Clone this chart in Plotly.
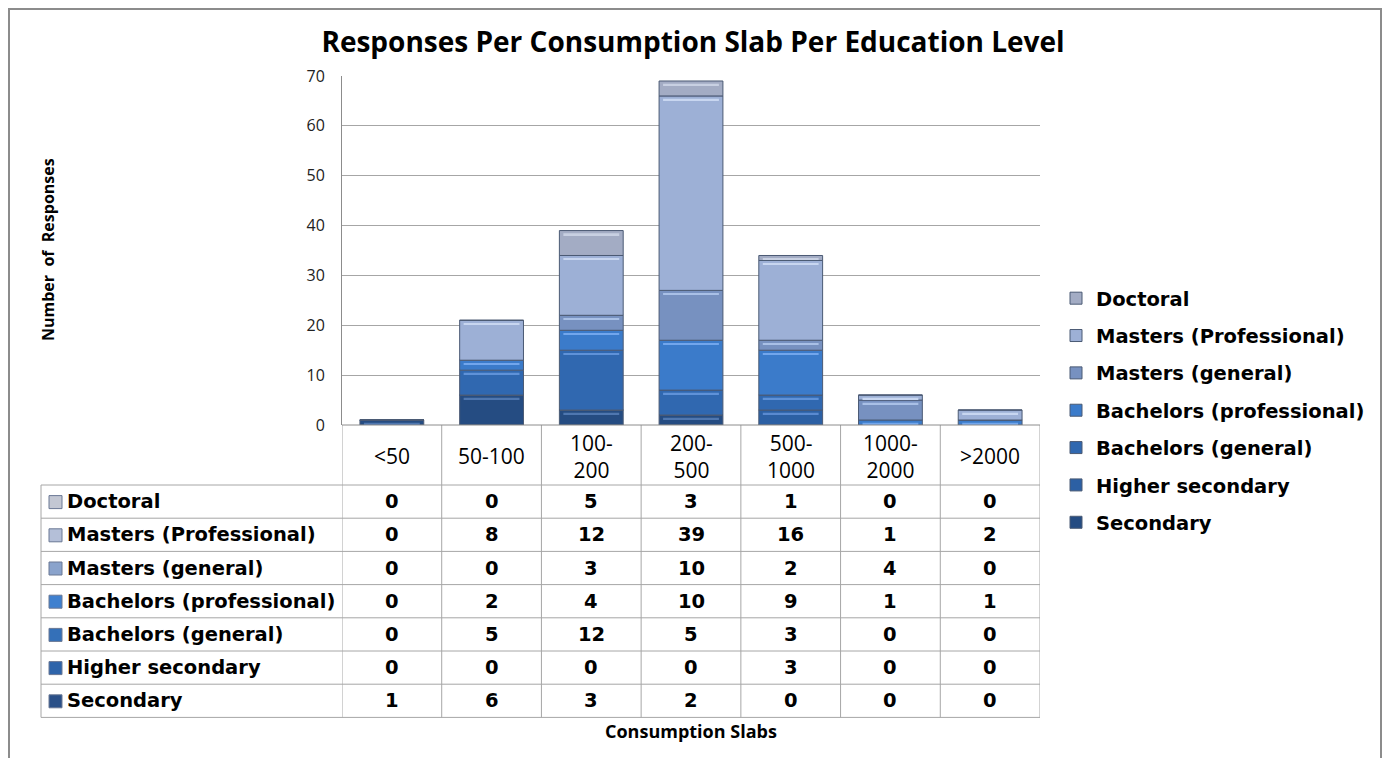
import plotly.graph_objects as go

# Consumption slabs (x categories) and the two-line labels used in the table header
slabs = ["<50", "50-100", "100-200", "200-500", "500-1000", "1000-2000", ">2000"]
slab_labels = ["<50", "50-100", "100-<br>200", "200-<br>500", "500-<br>1000", "1000-<br>2000", ">2000"]

# Responses per education level, stacked bottom to top
levels = [
    "Secondary",
    "Higher secondary",
    "Bachelors (general)",
    "Bachelors (professional)",
    "Masters (general)",
    "Masters (Professional)",
    "Doctoral",
]
secondary = [1, 6, 3, 2, 0, 0, 0]
higher_secondary = [0, 0, 0, 0, 3, 0, 0]
bachelors_general = [0, 5, 12, 5, 3, 0, 0]
bachelors_professional = [0, 2, 4, 10, 9, 1, 1]
masters_general = [0, 0, 3, 10, 2, 4, 0]
masters_professional = [0, 8, 12, 39, 16, 1, 2]
doctoral = [0, 0, 5, 3, 1, 0, 0]
series = [secondary, higher_secondary, bachelors_general, bachelors_professional,
          masters_general, masters_professional, doctoral]

y_ticks = [0, 10, 20, 30, 40, 50, 60, 70]

colors = ["#254c82", "#2c60a4", "#3068b0", "#3b7bca", "#7791c0", "#9db0d6", "#a3acc4"]
shine_colors = ["#4f77b0", "#5a8ad0", "#5f92d8", "#72a6ec", "#a9c0e6", "#c8d6f0", "#c8d0e2"]
icon_colors = ["#2a5088", "#2e64aa", "#3470b8", "#3f80cf", "#8aa3cc", "#b4bfd8", "#c3c7d3"]

W, H = 1386, 758
L, R, T, B = 342, 1040, 76, 425  # plot area in pixels
pw, ph = R - L, B - T
unit_px = ph / 70.0


def px_x(x):
    return (x - L) / pw


def px_y(y):
    return (B - y) / ph


n_rows = len(levels)
fig = go.Figure()

# stacked segments with explicit bases so a bevel highlight can sit on top of each one
base = [0] * len(slabs)
for i, (name, vals, col) in enumerate(zip(levels, series, colors)):
    fig.add_trace(go.Bar(
        x=slabs, y=vals, base=list(base), name=name, legendgroup=name,
        legendrank=100 + n_rows - i, width=0.64,
        marker=dict(color=col, line=dict(color="#4b5a74", width=1)),
    ))
    tops = [b + v for b, v in zip(base, vals)]
    shine_x = [s for s, v in zip(slabs, vals) if v > 0]
    shine_base = [t - 4.5 / unit_px for t, v in zip(tops, vals) if v > 0]
    fig.add_trace(go.Bar(
        x=shine_x, y=[1.8 / unit_px] * len(shine_x), base=shine_base,
        width=0.56, showlegend=False, hoverinfo="skip", legendgroup=name,
        marker=dict(color=shine_colors[i], line=dict(width=0)),
    ))
    base = tops

shapes = []
annotations = []
line_col = "#a6a6a6"

# outer chart frame
shapes.append(dict(type="rect", xref="paper", yref="paper",
                   x0=px_x(9), x1=px_x(1381), y0=px_y(9), y1=px_y(775),
                   line=dict(color="#8c8c8c", width=2), fillcolor="rgba(0,0,0,0)", layer="below"))

# data table below the axis
header_bottom = 485
row_h = 33.2
table_bottom = header_bottom + row_h * n_rows
label_left = 41

# horizontal row lines
for i in range(n_rows + 1):
    yy = header_bottom + i * row_h
    shapes.append(dict(type="line", xref="paper", yref="paper",
                       x0=px_x(label_left), x1=1, y0=px_y(yy), y1=px_y(yy),
                       line=dict(color=line_col, width=1)))
# vertical column lines, placed on category boundaries
for k in range(len(slabs) + 1):
    shapes.append(dict(type="line", xref="x", yref="paper",
                       x0=k - 0.5, x1=k - 0.5, y0=0, y1=px_y(table_bottom),
                       line=dict(color=line_col, width=1)))
shapes.append(dict(type="line", xref="paper", yref="paper",
                   x0=px_x(label_left), x1=px_x(label_left),
                   y0=px_y(header_bottom), y1=px_y(table_bottom),
                   line=dict(color=line_col, width=1)))

cell_font = dict(family="DejaVu Sans", size=19.5, color="#000000", weight="bold")

# header labels
for s, lab in zip(slabs, slab_labels):
    annotations.append(dict(x=s, xref="x", y=px_y(456), yref="paper", text=lab,
                            showarrow=False, xanchor="center", yanchor="middle",
                            font=dict(family="Open Sans", size=21, color="#000"),
                            align="center"))

# rows: top row is the last series (Doctoral)
for r, idx in enumerate(range(n_rows - 1, -1, -1)):
    yc = header_bottom + (r + 0.5) * row_h
    annotations.append(dict(x=px_x(65), xref="paper", y=px_y(yc), yref="paper",
                            text=levels[idx], showarrow=False,
                            xanchor="left", yanchor="middle", font=cell_font))
    shapes.append(dict(type="rect", xref="paper", yref="paper",
                       x0=px_x(49), x1=px_x(62), y0=px_y(yc - 6), y1=px_y(yc + 7),
                       fillcolor=icon_colors[idx], line=dict(color="#6a7894", width=1)))
    for s, v in zip(slabs, series[idx]):
        annotations.append(dict(x=s, xref="x", y=px_y(yc), yref="paper",
                                text=str(v), showarrow=False,
                                xanchor="center", yanchor="middle", font=cell_font))

# axis titles
annotations.append(dict(x=px_x(48), xref="paper", y=px_y(250), yref="paper",
                        text="Number  of  Responses", textangle=-90, showarrow=False,
                        xanchor="center", yanchor="middle",
                        font=dict(family="Open Sans", size=16, color="#000", weight="bold")))
annotations.append(dict(x=0.5, xref="paper", y=px_y(731), yref="paper",
                        text="Consumption Slabs", showarrow=False,
                        xanchor="center", yanchor="middle",
                        font=dict(family="Open Sans", size=18, color="#000", weight="bold")))

fig.update_layout(
    width=W, height=H, autosize=False,
    margin=dict(l=L, r=W - R, t=T, b=H - B, pad=0),
    paper_bgcolor="white", plot_bgcolor="white",
    barmode="overlay",
    title=dict(text="Responses Per Consumption Slab Per Education Level",
               x=0.5, xanchor="center", y=1 - 42 / H, yanchor="middle",
               font=dict(family="Open Sans", size=28, color="#000", weight="bold")),
    xaxis=dict(showticklabels=False, showgrid=False, zeroline=False,
               showline=False, ticks="", range=[-0.5, len(slabs) - 0.5]),
    yaxis=dict(range=[0, 70], tickvals=y_ticks, showgrid=True, gridcolor="#a6a6a6",
               gridwidth=1, zeroline=False, showline=True, linecolor="#8c8c8c", linewidth=1,
               ticks="", tickfont=dict(family="Open Sans", size=16, color="#222"),
               ticklabelstandoff=13),
    legend=dict(x=px_x(1056), xanchor="left", y=px_y(279), yanchor="top",
                traceorder="grouped", tracegroupgap=9,
                font=dict(family="DejaVu Sans", size=19.5, color="#000", weight="bold"),
                bgcolor="rgba(0,0,0,0)", itemclick=False),
    shapes=shapes, annotations=annotations,
)
# axis line at y=0 spanning the category columns
fig.add_shape(type="line", xref="paper", yref="paper", x0=0, x1=1, y0=0, y1=0,
              line=dict(color="#8c8c8c", width=1))

fig.write_html("out.html")
